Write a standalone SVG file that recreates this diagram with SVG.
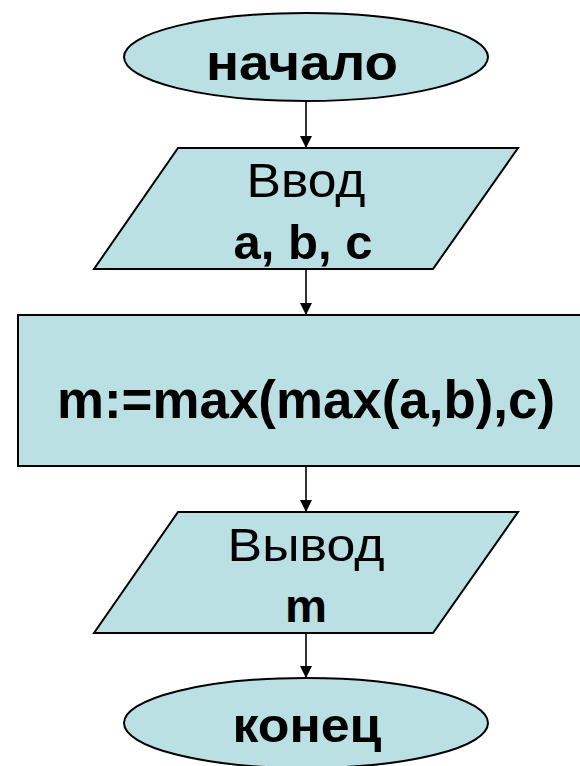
<svg xmlns="http://www.w3.org/2000/svg" width="580" height="766" viewBox="0 0 580 766">
<style>
.shape{fill:#bae0e3;stroke:#000;stroke-width:2}
.t{font-family:"Liberation Sans",Arial,sans-serif;fill:#000;text-anchor:middle}
.b{font-weight:bold}
.conn{stroke:#000;stroke-width:1.6;fill:none}
</style>
<defs>
<marker id="arr" markerWidth="12" markerHeight="12" refX="12" refY="6" orient="auto" markerUnits="userSpaceOnUse">
<path d="M0,0 L12,6 L0,12 Z" fill="#000"/>
</marker>
</defs>
<rect width="580" height="766" fill="#fff"/>
<g id="connectors">
<line class="conn" x1="306" y1="102" x2="306" y2="148" marker-end="url(#arr)"/>
<line class="conn" x1="306" y1="269" x2="306" y2="315" marker-end="url(#arr)"/>
<line class="conn" x1="306" y1="466" x2="306" y2="512" marker-end="url(#arr)"/>
<line class="conn" x1="306" y1="633" x2="306" y2="678" marker-end="url(#arr)"/>
</g>
<g id="start">
<ellipse class="shape" cx="306" cy="57" rx="182" ry="44"/>
<text class="t b" x="302" y="80" font-size="50" textLength="192" lengthAdjust="spacingAndGlyphs">начало</text>
</g>
<g id="input">
<polygon class="shape" points="178,148 518,148 433,269 94,269"/>
<text class="t" x="306" y="197" font-size="48" textLength="119" lengthAdjust="spacingAndGlyphs">Ввод</text>
<text class="t b" x="303" y="259" font-size="48" textLength="139" lengthAdjust="spacingAndGlyphs">a, b, c</text>
</g>
<g id="process">
<rect class="shape" x="18" y="315" width="580" height="151"/>
<text class="t b" x="306" y="418" font-size="54" textLength="498" lengthAdjust="spacingAndGlyphs">m:=max(max(a,b),c)</text>
</g>
<g id="output">
<polygon class="shape" points="178,512 518,512 433,633 94,633"/>
<text class="t" x="306" y="561" font-size="47" textLength="157" lengthAdjust="spacingAndGlyphs">Вывод</text>
<text class="t b" x="306" y="622" font-size="47" textLength="42" lengthAdjust="spacingAndGlyphs">m</text>
</g>
<g id="end">
<ellipse class="shape" cx="306" cy="723" rx="182" ry="45"/>
<text class="t b" x="307" y="742" font-size="48" textLength="149" lengthAdjust="spacingAndGlyphs">конец</text>
</g>
</svg>
